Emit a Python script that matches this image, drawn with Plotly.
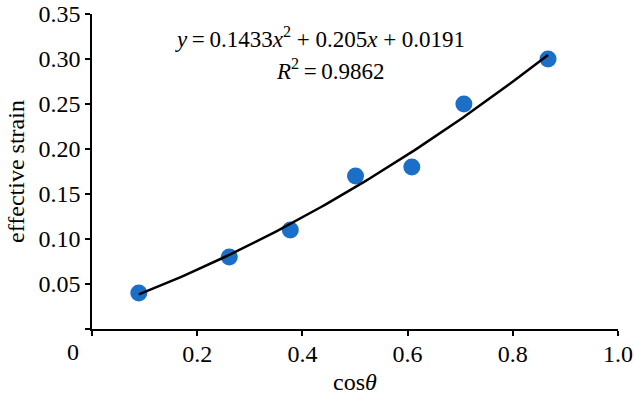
import numpy as np
import plotly.graph_objects as go

# measured points
cos_theta = [0.089, 0.261, 0.377, 0.501, 0.608, 0.707, 0.867]
eff_strain = [0.04, 0.08, 0.11, 0.17, 0.18, 0.25, 0.30]

# quadratic trendline coefficients as printed on the chart
fit_a, fit_b, fit_c = 0.1433, 0.205, 0.0191
r_squared = 0.9862

x_ticks = [0, 0.2, 0.4, 0.6, 0.8, 1.0]
x_tick_text = ["", "0.2", "0.4", "0.6", "0.8", "1.0"]
y_ticks = [0, 0.05, 0.10, 0.15, 0.20, 0.25, 0.30, 0.35]
y_tick_text = ["", "0.05", "0.10", "0.15", "0.20", "0.25", "0.30", "0.35"]

FONT = "Liberation Serif, Times New Roman, serif"
W, H = 634, 400
L, R, T, B = 92, 16, 14, 71

fit_x = np.linspace(min(cos_theta), max(cos_theta), 120)
fit_y = fit_a * fit_x**2 + fit_b * fit_x + fit_c

fig = go.Figure()
fig.add_trace(go.Scatter(
    x=cos_theta, y=eff_strain, mode='markers',
    marker=dict(size=17, color='#1c6fc6', line=dict(width=0)),
    showlegend=False
))
fig.add_trace(go.Scatter(
    x=fit_x, y=fit_y, mode='lines',
    line=dict(color='black', width=2.5),
    showlegend=False
))

def px_x(p):
    return (p - L) / (W - L - R)

def px_y(p):
    return (H - B - p) / (H - T - B)

eq = "\u2009=\u2009"
labels = [
    (320, 38, f"<i>y</i>{eq}{fit_a}<i>x</i><sup>2</sup> + {fit_b}<i>x</i> + {fit_c}", 23),
    (330, 69, f"<i>R</i><sup>2</sup>{eq}{r_squared}", 23),
    (73, 352, "0", 24),  # x-axis "0" sits left of the origin
]
for lx, ly, txt, sz in labels:
    fig.add_annotation(
        x=px_x(lx), y=px_y(ly), xref='paper', yref='paper', text=txt,
        xanchor='center', yanchor='middle', showarrow=False,
        font=dict(family=FONT, size=sz, color='black')
    )

axis_style = dict(
    showgrid=False, zeroline=False, automargin=False,
    showline=True, linecolor='black', linewidth=1.5,
    ticks='outside', ticklen=5, tickwidth=1.5, tickcolor='black',
)

fig.update_layout(
    width=W, height=H,
    margin=dict(l=L, r=R, t=T, b=B),
    plot_bgcolor='white', paper_bgcolor='white',
    font=dict(family=FONT, size=24, color='black'),
    xaxis=dict(
        range=[0, 1.0], tickvals=x_ticks, ticktext=x_tick_text,
        ticklabelstandoff=-3,
        title=dict(text="cos<i>θ</i>", font=dict(size=24), standoff=8),
        **axis_style
    ),
    yaxis=dict(
        range=[0, 0.35], tickvals=y_ticks, ticktext=y_tick_text,
        title=dict(text="effective strain", font=dict(size=24), standoff=7),
        **axis_style
    ),
)

fig.write_html("out.html", config={'displayModeBar': False},
               post_script="document.body.style.margin='0';")
